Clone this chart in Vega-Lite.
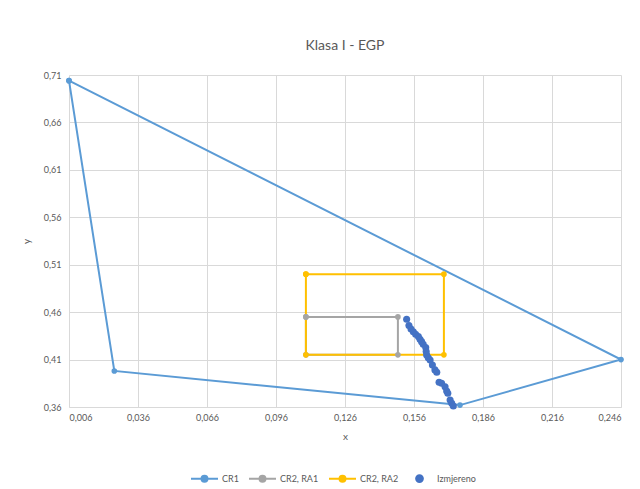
{
  "$schema": "https://vega.github.io/schema/vega-lite/v6.json",
  "autosize": {"type": "none"},
  "padding": {"left": 69, "top": 75, "right": 19, "bottom": 82},
  "width": 552,
  "height": 332,
  "background": "white",
  "title": {"text": "Klasa I - EGP", "fontSize": 14, "font": "Lato", "fontWeight": "normal", "color": "#595959", "anchor": "middle", "offset": 18},
  "config": {
    "view": {"stroke": null},
    "axis": {"labelFont": "Lato", "titleFont": "Lato", "labelFontSize": 9, "titleFontSize": 10, "labelColor": "#595959", "titleColor": "#595959", "titleFontWeight": "normal", "gridColor": "#d9d9d9", "gridWidth": 1, "ticks": false, "domain": false},
    "legend": {"labelFont": "Lato", "labelFontSize": 9, "labelColor": "#595959"}
  },
  "data": {"values": [
    {"series": "CR1", "i": 0, "x": 0.006, "y": 0.704},
    {"series": "CR1", "i": 1, "x": 0.0257, "y": 0.398},
    {"series": "CR1", "i": 2, "x": 0.176, "y": 0.362},
    {"series": "CR1", "i": 3, "x": 0.246, "y": 0.41},
    {"series": "CR1", "i": 4, "x": 0.006, "y": 0.704},
    {"series": "CR2, RA1", "i": 0, "x": 0.109, "y": 0.455},
    {"series": "CR2, RA1", "i": 1, "x": 0.149, "y": 0.455},
    {"series": "CR2, RA1", "i": 2, "x": 0.149, "y": 0.415},
    {"series": "CR2, RA1", "i": 3, "x": 0.109, "y": 0.415},
    {"series": "CR2, RA1", "i": 4, "x": 0.109, "y": 0.455},
    {"series": "CR2, RA2", "i": 0, "x": 0.109, "y": 0.5},
    {"series": "CR2, RA2", "i": 1, "x": 0.169, "y": 0.5},
    {"series": "CR2, RA2", "i": 2, "x": 0.169, "y": 0.415},
    {"series": "CR2, RA2", "i": 3, "x": 0.109, "y": 0.415},
    {"series": "CR2, RA2", "i": 4, "x": 0.109, "y": 0.5},
    {"series": "Izmjereno", "i": 0, "x": 0.1528, "y": 0.4525},
    {"series": "Izmjereno", "i": 1, "x": 0.1538, "y": 0.4458},
    {"series": "Izmjereno", "i": 2, "x": 0.1547, "y": 0.4423},
    {"series": "Izmjereno", "i": 3, "x": 0.1557, "y": 0.4394},
    {"series": "Izmjereno", "i": 4, "x": 0.1567, "y": 0.4367},
    {"series": "Izmjereno", "i": 5, "x": 0.1579, "y": 0.4342},
    {"series": "Izmjereno", "i": 6, "x": 0.1586, "y": 0.4314},
    {"series": "Izmjereno", "i": 7, "x": 0.1593, "y": 0.4289},
    {"series": "Izmjereno", "i": 8, "x": 0.16, "y": 0.4262},
    {"series": "Izmjereno", "i": 9, "x": 0.1611, "y": 0.4226},
    {"series": "Izmjereno", "i": 10, "x": 0.1613, "y": 0.4185},
    {"series": "Izmjereno", "i": 11, "x": 0.1615, "y": 0.4149},
    {"series": "Izmjereno", "i": 12, "x": 0.1622, "y": 0.412},
    {"series": "Izmjereno", "i": 13, "x": 0.163, "y": 0.4096},
    {"series": "Izmjereno", "i": 14, "x": 0.164, "y": 0.4043},
    {"series": "Izmjereno", "i": 15, "x": 0.1651, "y": 0.3991},
    {"series": "Izmjereno", "i": 16, "x": 0.1659, "y": 0.3966},
    {"series": "Izmjereno", "i": 17, "x": 0.1669, "y": 0.3861},
    {"series": "Izmjereno", "i": 18, "x": 0.168, "y": 0.385},
    {"series": "Izmjereno", "i": 19, "x": 0.1695, "y": 0.3814},
    {"series": "Izmjereno", "i": 20, "x": 0.1702, "y": 0.3769},
    {"series": "Izmjereno", "i": 21, "x": 0.1707, "y": 0.3745},
    {"series": "Izmjereno", "i": 22, "x": 0.1717, "y": 0.3674},
    {"series": "Izmjereno", "i": 23, "x": 0.1724, "y": 0.3639},
    {"series": "Izmjereno", "i": 24, "x": 0.1731, "y": 0.3611}
  ]},
  "encoding": {
    "x": {"field": "x", "type": "quantitative", "title": "x",
      "scale": {"domain": [0.006, 0.246], "nice": false, "zero": false},
      "axis": {"values": [0.006, 0.036, 0.066, 0.096, 0.126, 0.156, 0.186, 0.216, 0.246], "labelExpr": "replace(format(datum.value, '.3f'), '.', ',')", "labelPadding": 6, "titlePadding": 9, "domain": true, "domainColor": "#d9d9d9"}},
    "y": {"field": "y", "type": "quantitative", "title": "y",
      "scale": {"domain": [0.36, 0.71], "nice": false, "zero": false},
      "axis": {"values": [0.36, 0.41, 0.46, 0.51, 0.56, 0.61, 0.66, 0.71], "labelExpr": "replace(format(datum.value, '.2f'), '.', ',')", "labelPadding": 8, "titlePadding": 12}},
    "color": {"field": "series", "type": "nominal",
      "scale": {"domain": ["CR1", "CR2, RA1", "CR2, RA2", "Izmjereno"], "range": ["#5B9BD5", "#A5A5A5", "#FFC000", "#4472C4"]},
      "legend": {"title": null, "orient": "none", "direction": "horizontal", "legendX": 121, "legendY": 389, "symbolSize": 729, "columnPadding": 6, "labelOffset": 3,
        "encode": {"symbols": {"update": {
          "shape": {"signal": "datum.value === 'Izmjereno' ? 'M-0.25,0A0.25,0.25 0 1,0 0.25,0A0.25,0.25 0 1,0 -0.25,0' : 'M-1,0L1,0M-0.22,0A0.22,0.22 0 1,0 0.22,0A0.22,0.22 0 1,0 -0.22,0'"},
          "fill": {"scale": "color", "field": "value"},
          "stroke": {"scale": "color", "field": "value"},
          "strokeWidth": {"value": 2},
          "opacity": {"value": 1}
        }}}}}
  },
  "layer": [
    {
      "transform": [{"filter": "datum.series !== 'Izmjereno'"}],
      "mark": {"type": "line", "strokeWidth": 2, "point": {"filled": true, "size": 32, "opacity": 1}},
      "encoding": {"order": {"field": "i", "type": "quantitative"}}
    },
    {
      "transform": [{"filter": "datum.series === 'Izmjereno'"}],
      "mark": {"type": "point", "filled": true, "size": 50, "opacity": 1}
    }
  ]
}
